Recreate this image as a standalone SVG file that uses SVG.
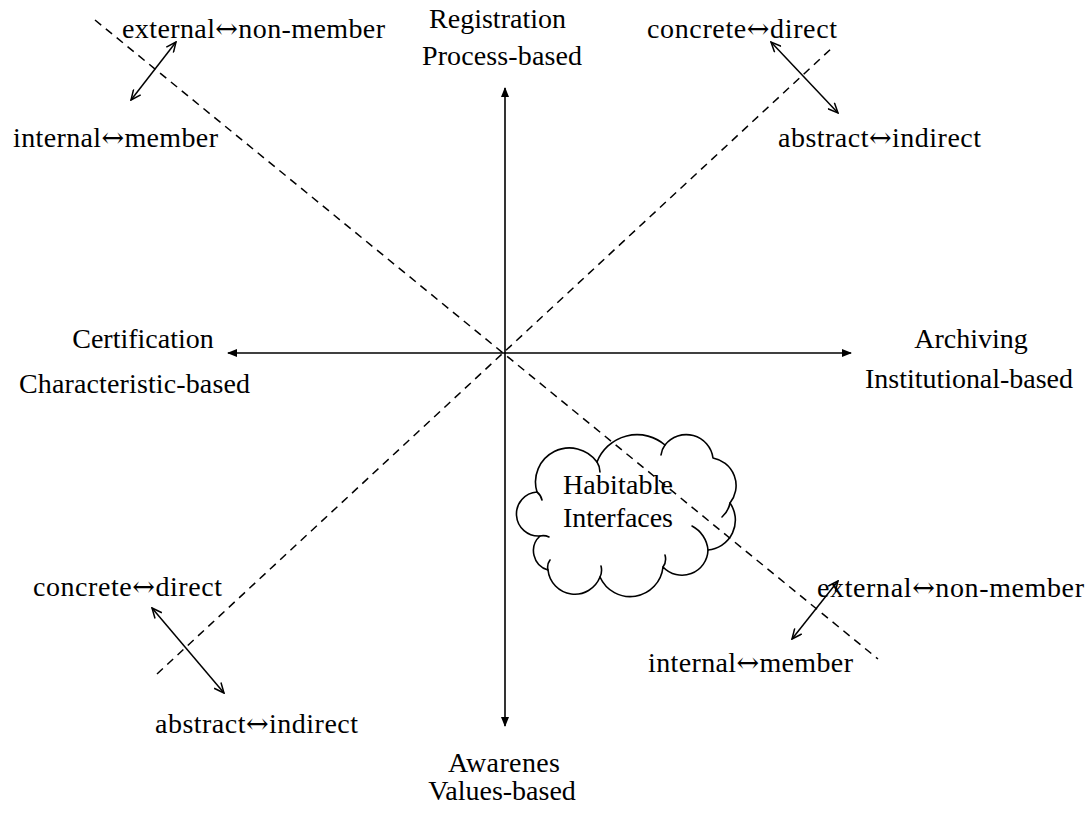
<svg xmlns="http://www.w3.org/2000/svg" width="1090" height="814" viewBox="0 0 1090 814">
  <style>
    text { font-family: "Liberation Serif", "Times New Roman", serif; font-size: 28px; fill: #000; }
    .mid { text-anchor: middle; }
    .ar { font-family: "DejaVu Serif", "Liberation Serif", serif; font-size: 27px; }
    .axis { stroke: #000; stroke-width: 1.6; fill: none; }
    .dash { stroke: #000; stroke-width: 1.5; stroke-dasharray: 8 6; fill: none; }
    .dbl { stroke: #000; stroke-width: 1.5; fill: none; }
    .cloud { stroke: #000; stroke-width: 1.6; fill: none; stroke-linejoin: round; stroke-linecap: round; }
  </style>
  <defs>
    <marker id="chev" viewBox="0 0 12 10" refX="11" refY="5" markerWidth="12" markerHeight="10" markerUnits="userSpaceOnUse" orient="auto-start-reverse">
      <path d="M1,0.5 L11,5 L1,9.5" fill="none" stroke="#000" stroke-width="1.5"/>
    </marker>
    <marker id="tip" viewBox="0 0 10 8" refX="9" refY="4" markerWidth="10" markerHeight="8" markerUnits="userSpaceOnUse" orient="auto-start-reverse">
      <path d="M0,0 L10,4 L0,8 Z" fill="#000"/>
    </marker>
  </defs>

  <rect width="1090" height="814" fill="#fff"/>

  <!-- connectors: axes, diagonals and pole arrows -->
  <g id="connectors">
    <line class="axis" x1="505" y1="88" x2="505" y2="726" marker-start="url(#tip)" marker-end="url(#tip)"/>
    <line class="axis" x1="228" y1="353" x2="851" y2="353" marker-start="url(#tip)" marker-end="url(#tip)"/>
    <line class="dash" x1="95" y1="20" x2="878" y2="659"/>
    <line class="dash" x1="157" y1="674" x2="833" y2="47"/>
    <line class="dbl" x1="131" y1="100" x2="176" y2="42" marker-start="url(#chev)" marker-end="url(#chev)"/>
    <line class="dbl" x1="771" y1="42" x2="838" y2="113" marker-start="url(#chev)" marker-end="url(#chev)"/>
    <line class="dbl" x1="152" y1="608" x2="224" y2="693" marker-start="url(#chev)" marker-end="url(#chev)"/>
    <line class="dbl" x1="838" y1="581" x2="792" y2="639" marker-start="url(#chev)" marker-end="url(#chev)"/>
  </g>

  <g id="pole-top">
    <text x="429" y="28" textLength="137" lengthAdjust="spacing">Registration</text>
    <text x="422" y="65" textLength="160" lengthAdjust="spacing">Process-based</text>
  </g>
  <g id="pole-left">
    <text class="mid" x="143" y="348">Certification</text>
    <text x="19" y="393" textLength="231" lengthAdjust="spacing">Characteristic-based</text>
  </g>
  <g id="pole-right">
    <text class="mid" x="971" y="348">Archiving</text>
    <text x="865" y="388" textLength="208" lengthAdjust="spacing">Institutional-based</text>
  </g>
  <g id="pole-bottom">
    <text x="448" y="772" textLength="112" lengthAdjust="spacing">Awarenes</text>
    <text class="mid" x="502" y="800">Values-based</text>
  </g>

  <g id="nw-pair">
    <text x="122" y="38" textLength="263" lengthAdjust="spacing">external<tspan class="ar">↔</tspan>non-member</text>
    <text x="13" y="147" textLength="205" lengthAdjust="spacing">internal<tspan class="ar">↔</tspan>member</text>
  </g>
  <g id="ne-pair">
    <text x="647" y="38" textLength="190" lengthAdjust="spacing">concrete<tspan class="ar">↔</tspan>direct</text>
    <text x="778" y="147" textLength="203" lengthAdjust="spacing">abstract<tspan class="ar">↔</tspan>indirect</text>
  </g>
  <g id="sw-pair">
    <text x="33" y="596" textLength="189" lengthAdjust="spacing">concrete<tspan class="ar">↔</tspan>direct</text>
    <text x="155" y="733" textLength="203" lengthAdjust="spacing">abstract<tspan class="ar">↔</tspan>indirect</text>
  </g>
  <g id="se-pair">
    <text x="817" y="597" textLength="267" lengthAdjust="spacing">external<tspan class="ar">↔</tspan>non-member</text>
    <text x="648" y="672" textLength="205" lengthAdjust="spacing">internal<tspan class="ar">↔</tspan>member</text>
  </g>

  <g id="habitable-interfaces">
    <!-- cloud outline: chain of lobes -->
    <path class="cloud" d="M540,536 A22,22 0 0 1 537,492 A34,34 0 0 1 597,462 A43,43 0 0 1 665,445 A27,27 0 0 1 713,458 A28,28 0 0 1 730,503 A30,30 0 0 1 708,550 A26,26 0 0 1 663,567 A33,33 0 0 1 600,577 A27,27 0 0 1 548,570 A20,20 0 0 1 540,536 Z"/>
    <!-- inner creases where lobes meet -->
    <path class="cloud" d="M537,492 a14,14 0 0 1 5,8 M597,462 a18,18 0 0 1 3,10 M665,445 a20,20 0 0 0 -4,10 M730,503 a25,25 0 0 1 -8,14 M708,550 a30,30 0 0 0 -16,-24 M663,567 a14,14 0 0 0 2,-12 M600,577 a16,16 0 0 0 1,-11 M548,570 a12,12 0 0 1 2,-10 M540,536 a14,14 0 0 1 9,1"/>
    <text x="563" y="494" textLength="110" lengthAdjust="spacing">Habitable</text>
    <text x="563" y="527" textLength="110" lengthAdjust="spacing">Interfaces</text>
  </g>
</svg>
